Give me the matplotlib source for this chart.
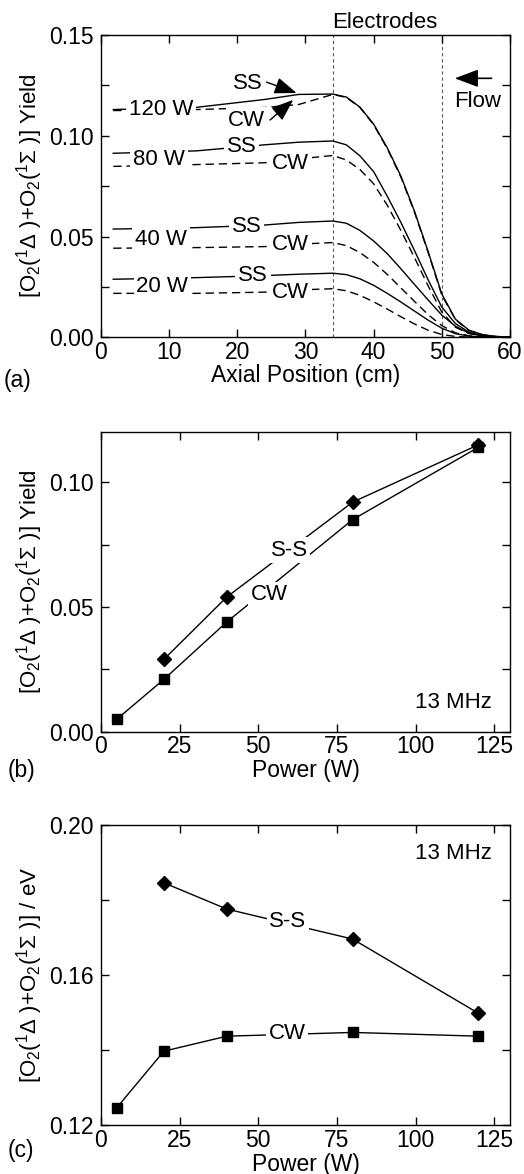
import matplotlib
matplotlib.use("Agg")
import matplotlib.pyplot as plt
from matplotlib.ticker import MultipleLocator, FormatStrFormatter

plt.rcParams['font.family'] = ['Liberation Sans', 'DejaVu Sans']
plt.rcParams['mathtext.fontset'] = 'custom'
plt.rcParams['mathtext.rm'] = 'Liberation Sans'
plt.rcParams['mathtext.it'] = 'Liberation Sans:italic'
plt.rcParams['mathtext.bf'] = 'Liberation Sans:bold'

# ---------------- data: panel (a) yield vs axial position ----------------
axial_cm = [1.8, 14, 24, 29, 34, 36, 38, 40, 42, 44, 46, 48, 50, 52, 54, 56, 58, 60]
ss_120 = [0.1130, 0.1141, 0.1180, 0.1205, 0.1207, 0.1192, 0.1142, 0.1058, 0.0940, 0.0800,
          0.0625, 0.0425, 0.0215, 0.0090, 0.0035, 0.0013, 0.0004, 0.0001]
cw_120 = [0.1125, 0.1130, 0.1140, 0.1155, 0.1205, 0.1190, 0.1140, 0.1055, 0.0936, 0.0795,
          0.0620, 0.0420, 0.0210, 0.0087, 0.0033, 0.0012, 0.0004, 0.0001]
ss_80 = [0.0913, 0.0925, 0.0955, 0.0968, 0.0974, 0.0955, 0.0900, 0.0822, 0.0700, 0.0570,
         0.0430, 0.0285, 0.0150, 0.0068, 0.0025, 0.0008, 0.0002, 0.0]
cw_80 = [0.0848, 0.0857, 0.0866, 0.0885, 0.0902, 0.0880, 0.0832, 0.0762, 0.0655, 0.0530,
         0.0395, 0.0255, 0.0125, 0.0050, 0.0018, 0.0006, 0.0001, 0.0]
ss_40 = [0.0537, 0.0544, 0.0557, 0.0570, 0.0577, 0.0566, 0.0530, 0.0478, 0.0415, 0.0340,
         0.0262, 0.0185, 0.0110, 0.0055, 0.0020, 0.0006, 0.0001, 0.0]
cw_40 = [0.0442, 0.0445, 0.0450, 0.0462, 0.0470, 0.0455, 0.0420, 0.0372, 0.0312, 0.0245,
         0.0178, 0.0112, 0.0058, 0.0022, 0.0007, 0.0002, 0.0, 0.0]
ss_20 = [0.0288, 0.0296, 0.0306, 0.0313, 0.0318, 0.0311, 0.0290, 0.0258, 0.0218, 0.0175,
         0.0130, 0.0085, 0.0045, 0.0018, 0.0006, 0.0001, 0.0, 0.0]
cw_20 = [0.0218, 0.0218, 0.0224, 0.0235, 0.0241, 0.0231, 0.0208, 0.0176, 0.0140, 0.0102,
         0.0066, 0.0035, 0.0014, 0.0004, 0.0001, 0.0, 0.0, 0.0]
electrode_cm = [34, 50]

# ---------------- data: panels (b), (c) vs power ----------------
power_ss = [20, 40, 80, 120]
power_cw = [5, 20, 40, 80, 120]
yield_ss = [0.029, 0.054, 0.092, 0.115]
yield_cw = [0.005, 0.021, 0.044, 0.085, 0.114]
energy_ss = [0.1846, 0.1776, 0.1696, 0.1498]
energy_cw = [0.1246, 0.1397, 0.1437, 0.1447, 0.1437]

FS = 16.5
FS_LAB = 16
FS_IN = 16
LW = 1.0

fig = plt.figure(figsize=(5.24, 11.74), dpi=100)
axa = fig.add_axes([0.1927, 0.7127, 0.7805, 0.2575])
axb = fig.add_axes([0.1927, 0.3767, 0.7805, 0.2551])
axc = fig.add_axes([0.1927, 0.0417, 0.7805, 0.2555])


def style(ax):
    for s in ax.spines.values():
        s.set_linewidth(1.0)
    ax.tick_params(which='both', direction='in', top=True, right=True,
                   length=6, width=1.0, labelsize=FS)
    ax.tick_params(axis='y', pad=5)
    ax.tick_params(axis='x', pad=2.5)


mask = dict(boxstyle='square,pad=0.12', fc='white', ec='none')

# ---------------- panel (a) ----------------
style(axa)
for xe in electrode_cm:
    axa.axvline(xe, color='0.35', lw=0.8, ls=(0, (3, 2.5)), zorder=1)
for ss, cw in [(ss_120, cw_120), (ss_80, cw_80), (ss_40, cw_40), (ss_20, cw_20)]:
    axa.plot(axial_cm, ss, color='black', lw=LW, zorder=2)
    axa.plot(axial_cm, cw, color='black', lw=LW, dashes=(6, 3.5), zorder=2)

axa.set_xlim(0, 60)
axa.set_ylim(0, 0.15)
axa.xaxis.set_major_locator(MultipleLocator(10))
axa.yaxis.set_major_locator(MultipleLocator(0.05))
axa.yaxis.set_minor_locator(MultipleLocator(0.025))
axa.xaxis.set_minor_locator(MultipleLocator(100))
axa.yaxis.set_major_formatter(FormatStrFormatter('%.2f'))

power_labels = [('120 W', 8.8, 0.1128), ('80 W', 8.5, 0.0880),
                ('40 W', 8.8, 0.0483), ('20 W', 9.0, 0.0251)]
for t, x, y in power_labels:
    axa.text(x, y, t, fontsize=FS_IN, ha='center', va='center', bbox=mask, zorder=3)
ss_labels = [(21.6, 0.1260), (20.6, 0.0946), (21.35, 0.0549), (22.3, 0.0309)]
cw_labels = [(21.4, 0.1078), (27.85, 0.0863), (27.85, 0.0458), (27.85, 0.0221)]
for x, y in ss_labels:
    axa.text(x, y, 'SS', fontsize=FS_IN, ha='center', va='center', bbox=mask, zorder=3)
for x, y in cw_labels:
    axa.text(x, y, 'CW', fontsize=FS_IN, ha='center', va='center', bbox=mask, zorder=3)

arr = dict(arrowstyle='-|>,head_length=0.8,head_width=0.3', color='black', lw=1.0,
           mutation_scale=17, shrinkA=0, shrinkB=0)
axa.annotate('', xy=(28.7, 0.1212), xytext=(24.3, 0.1266), arrowprops=arr, zorder=4)
axa.annotate('', xy=(28.2, 0.1178), xytext=(24.8, 0.1078), arrowprops=arr, zorder=4)
arr2 = dict(arrowstyle='-|>,head_length=0.8,head_width=0.3', color='black', lw=1.2,
            mutation_scale=18, shrinkA=0, shrinkB=0)
axa.annotate('', xy=(51.9, 0.1285), xytext=(57.3, 0.1285), arrowprops=arr2)
axa.text(55.2, 0.1169, 'Flow', fontsize=FS_IN, ha='center', va='center')
axa.text(41.7, 0.1560, 'Electrodes', fontsize=FS_IN, ha='center', va='center', clip_on=False)

axa.set_xlabel('Axial Position (cm)', fontsize=FS, va='center')
axa.xaxis.set_label_coords(0.5, -0.128)
axa.set_ylabel('[O$_2$($^1$Δ )+O$_2$($^1$Σ )] Yield', fontsize=FS_LAB, va='center')
axa.yaxis.set_label_coords(-0.174, 0.5)

# ---------------- panel (b) ----------------
style(axb)
axb.plot(power_ss, yield_ss, color='black', lw=LW, marker='D', ms=6.8, zorder=2)
axb.plot(power_cw, yield_cw, color='black', lw=LW, marker='s', ms=7, zorder=2)
axb.set_xlim(0, 130)
axb.set_ylim(0, 0.12)
axb.xaxis.set_major_locator(MultipleLocator(25))
axb.yaxis.set_major_locator(MultipleLocator(0.05))
axb.yaxis.set_minor_locator(MultipleLocator(0.025))
axb.xaxis.set_minor_locator(MultipleLocator(1000))
axb.yaxis.set_major_formatter(FormatStrFormatter('%.2f'))
axb.text(59.8, 0.0728, 'S-S', fontsize=FS_IN, ha='center', va='center', bbox=mask, zorder=3)
axb.text(53.4, 0.0548, 'CW', fontsize=FS_IN, ha='center', va='center', bbox=mask, zorder=3)
axb.text(124.2, 0.0116, '13 MHz', fontsize=FS_IN, ha='right', va='center')
axb.set_xlabel('Power (W)', fontsize=FS, va='center')
axb.xaxis.set_label_coords(0.5, -0.128)
axb.set_ylabel('[O$_2$($^1$Δ )+O$_2$($^1$Σ )] Yield', fontsize=FS_LAB, va='center')
axb.yaxis.set_label_coords(-0.174, 0.5)

# ---------------- panel (c) ----------------
style(axc)
axc.plot(power_ss, energy_ss, color='black', lw=LW, marker='D', ms=6.8, zorder=2)
axc.plot(power_cw, energy_cw, color='black', lw=LW, marker='s', ms=7, zorder=2)
axc.set_xlim(0, 130)
axc.set_ylim(0.12, 0.20)
axc.xaxis.set_major_locator(MultipleLocator(25))
axc.yaxis.set_major_locator(MultipleLocator(0.04))
axc.yaxis.set_minor_locator(MultipleLocator(0.02))
axc.xaxis.set_minor_locator(MultipleLocator(1000))
axc.yaxis.set_major_formatter(FormatStrFormatter('%.2f'))
axc.text(59.4, 0.1742, 'S-S', fontsize=FS_IN, ha='center', va='center', bbox=mask, zorder=3)
axc.text(59.2, 0.1444, 'CW', fontsize=FS_IN, ha='center', va='center', bbox=mask, zorder=3)
axc.text(124.2, 0.1925, '13 MHz', fontsize=FS_IN, ha='right', va='center')
axc.set_xlabel('Power (W)', fontsize=FS, va='center')
axc.xaxis.set_label_coords(0.5, -0.13)
axc.set_ylabel('[O$_2$($^1$Δ )+O$_2$($^1$Σ )] / eV', fontsize=FS_LAB, va='center')
axc.yaxis.set_label_coords(-0.174, 0.5)

# panel letters
fig.text(4 / 524, 1 - 380 / 1174, '(a)', fontsize=FS, ha='left', va='center')
fig.text(8 / 524, 1 - 770 / 1174, '(b)', fontsize=FS, ha='left', va='center')
fig.text(8 / 524, 1 - 1150 / 1174, '(c)', fontsize=FS, ha='left', va='center')

fig.savefig('out.png', dpi=100)
